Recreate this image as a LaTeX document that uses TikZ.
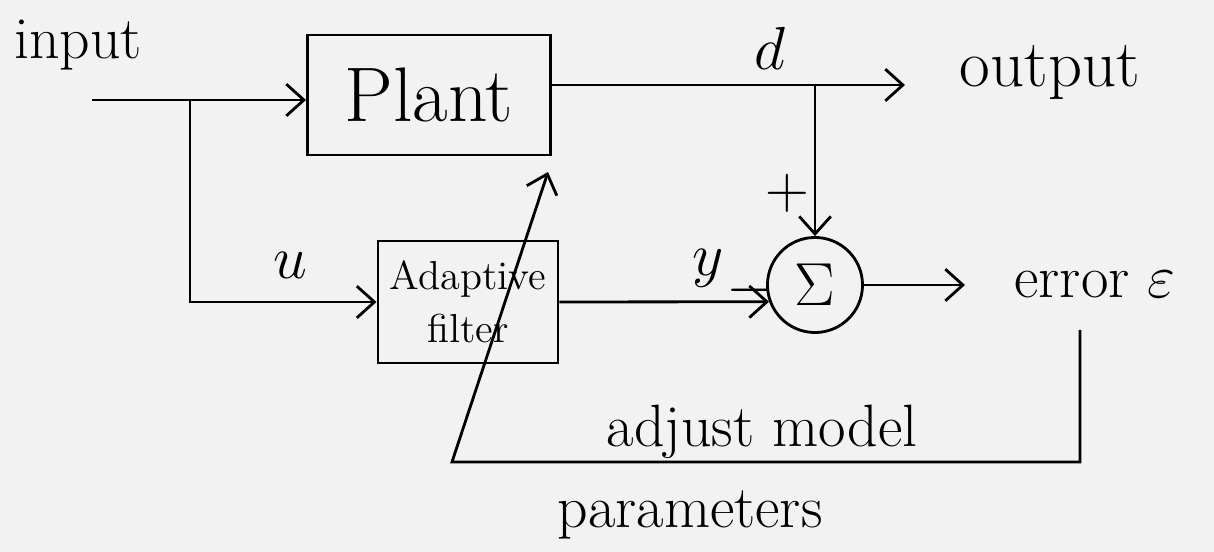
\documentclass[tikz,border=0pt]{standalone}
\usetikzlibrary{arrows.meta}
\begin{document}
\begin{tikzpicture}[x=0.01cm,y=-0.01cm,
  line width=0.8pt,
  arr/.style={-{Straight Barb[length=5pt,width=9pt]}},
  blk/.style={draw, inner sep=0pt},
  lbl/.style={font=\fontsize{17}{19}\selectfont, inner sep=1pt}]
\fill[black!5] (0,0) rectangle (1214,552);
\useasboundingbox (0,0) rectangle (1214,552);
% blocks
\node[blk, font=\fontsize{22}{24}\selectfont, minimum width=2.43cm, minimum height=1.2cm] (plant) at (429,95) {Plant};
\node[blk, align=center, font=\fontsize{11.5}{15}\selectfont, minimum width=1.8cm, minimum height=1.22cm] (filt) at (468,302) {Adaptive\\filter};
\node[draw, circle, minimum size=0.95cm, inner sep=0pt, font=\fontsize{17}{19}\selectfont] (sum) at (815,285) {$\Sigma$};
% coordinates
\coordinate (in) at (92,100);
\coordinate (split1) at (190,100);
\coordinate (split2) at (815,85);
\coordinate (out) at (905,85);
\coordinate (err) at (965,285);
\coordinate (fb1) at (1080,330);
\coordinate (fb2) at (1080,462);
\coordinate (fb3) at (452,462);
\coordinate (fbtip) at (548,172);
% connectors
\draw[arr] (in) -- (plant.west |- in);
\draw[arr] (split1) |- (filt.west);
\draw[arr] (plant.east |- out) -- (out);
\draw[arr] (split2) -- (sum.north);
\draw[arr] (filt.east) -- (sum.200);
\draw[arr] (sum.east) -- (err);
\draw[arr] (fb1) -- (fb2) -- (fb3) -- (fbtip);
% labels
\node[lbl] (tin) at (78,45) {input};
\node[lbl] (tu) at (290,265) {$u$};
\node[lbl] (td) at (770,48) {$d$};
\node[lbl, font=\fontsize{19}{21}\selectfont] (tout) at (1050,72) {output};
\node[lbl] (tplus) at (787,193) {$+$};
\node[lbl] (ty) at (708,268) {$y$};
\node[lbl] (tminus) at (750,290) {$-$};
\node[lbl] (terr) at (1095,285) {error $\varepsilon$};
\node[lbl] (tadj) at (762,432) {adjust model};
\node[lbl] (tpar) at (690,515) {parameters};
\end{tikzpicture}
\end{document}
